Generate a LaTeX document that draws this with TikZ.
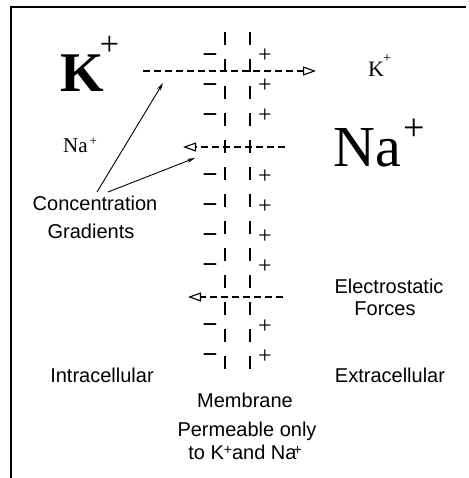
\documentclass[tikz,border=0pt]{standalone}
\usepackage{fontspec}
\setmainfont{Liberation Serif}
\newfontfamily\lsans{Liberation Sans}
\usetikzlibrary{arrows.meta}
\begin{document}
\begin{tikzpicture}[x=1pt,y=-1pt,
  lbl/.style={inner sep=0pt, font=\lsans\fontsize{20}{22}\selectfont},
  ion/.style={inner sep=0pt, anchor=base west},
  chgn/.style={inner sep=0pt, anchor=base, font=\bfseries\fontsize{27}{27}\selectfont},
  chgp/.style={inner sep=0pt, anchor=base, font=\fontsize{24}{24}\selectfont},
  memb/.style={line width=1.3pt, dash pattern=on 13pt off 14pt},
  flux/.style={line width=1.1pt, dash pattern=on 7pt off 4pt, -{Triangle[open,length=13pt,width=9pt]}},
  grad/.style={line width=0.9pt, -{Stealth[length=8pt,width=4pt]}},
  frame/.style={line width=2pt}
]
\useasboundingbox (0,0) rectangle (468,478);
% frame
\coordinate (fb) at (11,478);
\coordinate (fc) at (11,7);
\coordinate (fr) at (466,7);
\draw[frame] (fb) -- (fc) -- (fr);
% membrane
\coordinate (m1t) at (225,32); \coordinate (m1b) at (225,383);
\coordinate (m2t) at (250,32); \coordinate (m2b) at (250,383);
\draw[memb] (m1t) -- (m1b);
\draw[memb] (m2t) -- (m2b);
% charges
\foreach \yy in {57,87,117,177,207,237,267,327,357} {
  \node[chgn] (neg\yy) at (210,\yy+6.5) {−};
  \node[chgp] (pos\yy) at (265,\yy+6) {+};
}
% ions
\node[ion, font=\bfseries\fontsize{56}{56}\selectfont] (Kin) at (60,92)
  {K\kern-4pt\raisebox{36pt}{\mdseries\fontsize{34}{34}\selectfont +}};
\node[ion, font=\fontsize{22}{22}\selectfont] (Kout) at (368,77)
  {K\kern-1pt\raisebox{14.5pt}{\fontsize{14}{14}\selectfont +}};
\node[ion, font=\fontsize{58}{58}\selectfont] (Naout) at (333,167)
  {Na\kern3pt\raisebox{26.5pt}{\fontsize{38}{38}\selectfont +}};
\node[ion, font=\fontsize{21}{21}\selectfont] (Nain) at (63,153)
  {Na\kern2pt\raisebox{7pt}{\fontsize{13}{13}\selectfont +}};
% fluxes
\coordinate (kL) at (143,71); \coordinate (kR) at (316,71);
\coordinate (nR) at (285,147); \coordinate (nL) at (183,147);
\coordinate (eR) at (283,297); \coordinate (eL) at (188,297);
\draw[flux] (kL) -- (kR);
\draw[flux] (nR) -- (nL);
\draw[flux] (eR) -- (eL);
% labels
\node[lbl, anchor=base] (conc) at (95,210) {Concentration};
\node[lbl, anchor=base] (gradl) at (91,238) {Gradients};
\node[lbl, anchor=base] (elec) at (389,293) {Electrostatic};
\node[lbl, anchor=base] (forc) at (385,315) {Forces};
\node[lbl, anchor=base] (intra) at (102,382) {Intracellular};
\node[lbl, anchor=base] (extra) at (390,382) {Extracellular};
\node[lbl, anchor=base] (memt) at (245,407) {Membrane};
\node[lbl, anchor=base] (perm) at (247,436) {Permeable only};
\node[lbl, anchor=base] (tok) at (245,459)
  {to K\raisebox{5pt}{\fontsize{14}{14}\selectfont +}and Na\kern-3pt\raisebox{5pt}{\fontsize{14}{14}\selectfont +}};
% gradient arrows
\coordinate (c1) at (97,192); \coordinate (c2) at (108,192);
\coordinate (t1) at (163,83); \coordinate (t2) at (195,158);
\draw[grad] (c1) -- (t1);
\draw[grad] (c2) -- (t2);
\end{tikzpicture}
\end{document}
